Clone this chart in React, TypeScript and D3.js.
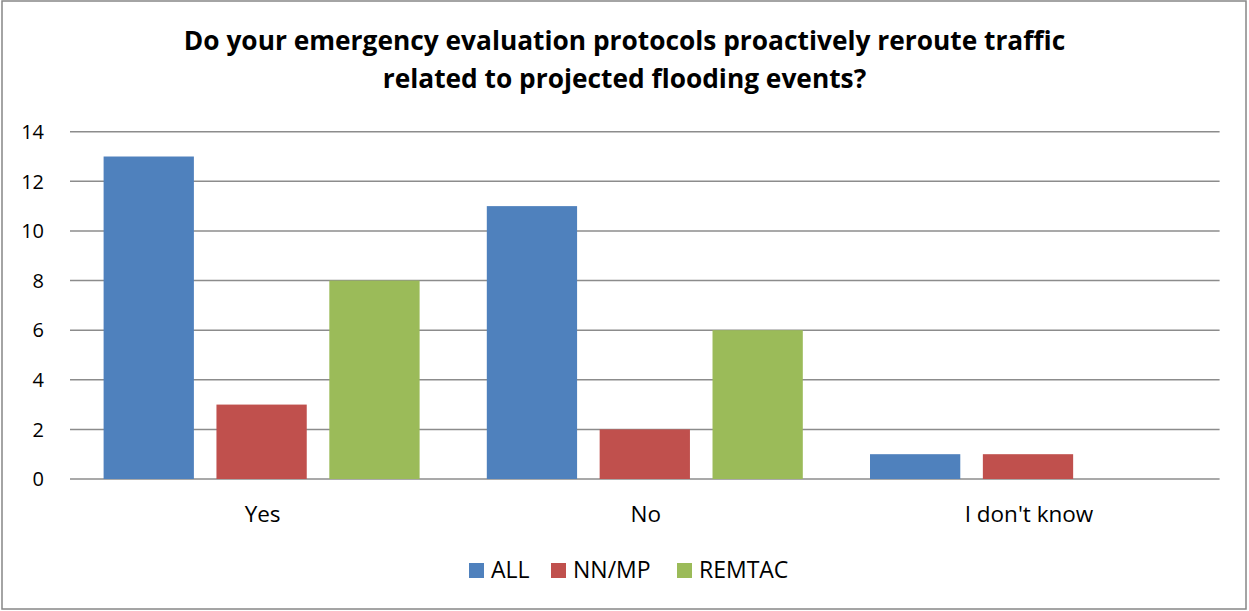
import React from "react";
import * as d3 from "d3";

const categories = ["Yes", "No", "I don't know"];
const seriesNames = ["ALL", "NN/MP", "REMTAC"];
const allValues = [13, 11, 1];
const nnmpValues = [3, 2, 1];
const remtacValues = [8, 6, 0];
const yTicks = [0, 2, 4, 6, 8, 10, 12, 14];
const titleLines = [
  "Do your emergency evaluation protocols proactively reroute traffic",
  "related to projected flooding events?",
];

const colors = ["#4F81BD", "#C0504D", "#9BBB59"];
const font = "'Open Sans', sans-serif";

const App = () => {
  const width = 1249;
  const height = 611;
  const margin = { left: 70, right: 29.4, top: 131.7, bottom: 132 };

  const values = [allValues, nnmpValues, remtacValues];

  const x0 = d3
    .scaleBand()
    .domain(categories)
    .range([margin.left, width - margin.right]);

  const groupPad = 33.6;
  const x1 = d3
    .scaleBand()
    .domain(seriesNames)
    .range([groupPad, x0.bandwidth() - groupPad])
    .paddingInner(0.2);

  const y = d3
    .scaleLinear()
    .domain([0, 14])
    .range([479, margin.top]);

  // legend layout (square + label)
  const legendX = [469, 551, 677];

  return (
    <svg
      width={width}
      height={height}
      style={{ position: "absolute", left: 0, top: 0, background: "#fff" }}
    >
      <rect x={2} y={1} width={1244} height={608} fill="#fff" stroke="#878787" strokeWidth={1.5} />

      {/* Title */}
      {titleLines.map((t, i) => (
        <text
          key={i}
          x={624.5}
          y={50 + i * 38}
          textAnchor="middle"
          fontFamily={font}
          fontWeight="bold"
          fontSize={26.3}
          fill="#000"
        >
          {t}
        </text>
      ))}

      {/* Gridlines + y labels */}
      {yTicks.map((t) => (
        <g key={t}>
          <line
            x1={margin.left}
            x2={width - margin.right}
            y1={y(t)}
            y2={y(t)}
            stroke="#8c8c8c"
            strokeWidth={1.5}
          />
          <text
            x={44}
            y={y(t)}
            dy="0.36em"
            textAnchor="end"
            fontFamily={font}
            fontSize={20}
            fill="#000"
          >
            {t}
          </text>
        </g>
      ))}

      {/* Bars */}
      {categories.map((c, ci) => (
        <g key={c} transform={`translate(${x0(c)},0)`}>
          {seriesNames.map((s, si) => {
            const v = values[si][ci];
            if (!v) return null;
            return (
              <rect
                key={s}
                x={x1(s)}
                y={y(v)}
                width={x1.bandwidth()}
                height={y(0) - y(v)}
                fill={colors[si]}
              />
            );
          })}
          <text
            x={x0.bandwidth() / 2 + 1}
            y={521.7}
            textAnchor="middle"
            fontFamily={font}
            fontSize={22.5}
            fill="#000"
          >
            {c}
          </text>
        </g>
      ))}

      {/* Legend */}
      {seriesNames.map((s, i) => (
        <g key={s}>
          <rect x={legendX[i]} y={563} width={15} height={15} fill={colors[i]} />
          <text
            x={legendX[i] + 22}
            y={577.5}
            fontFamily={font}
            fontSize={23}
            fill="#000"
          >
            {s}
          </text>
        </g>
      ))}
    </svg>
  );
};

export default App;
